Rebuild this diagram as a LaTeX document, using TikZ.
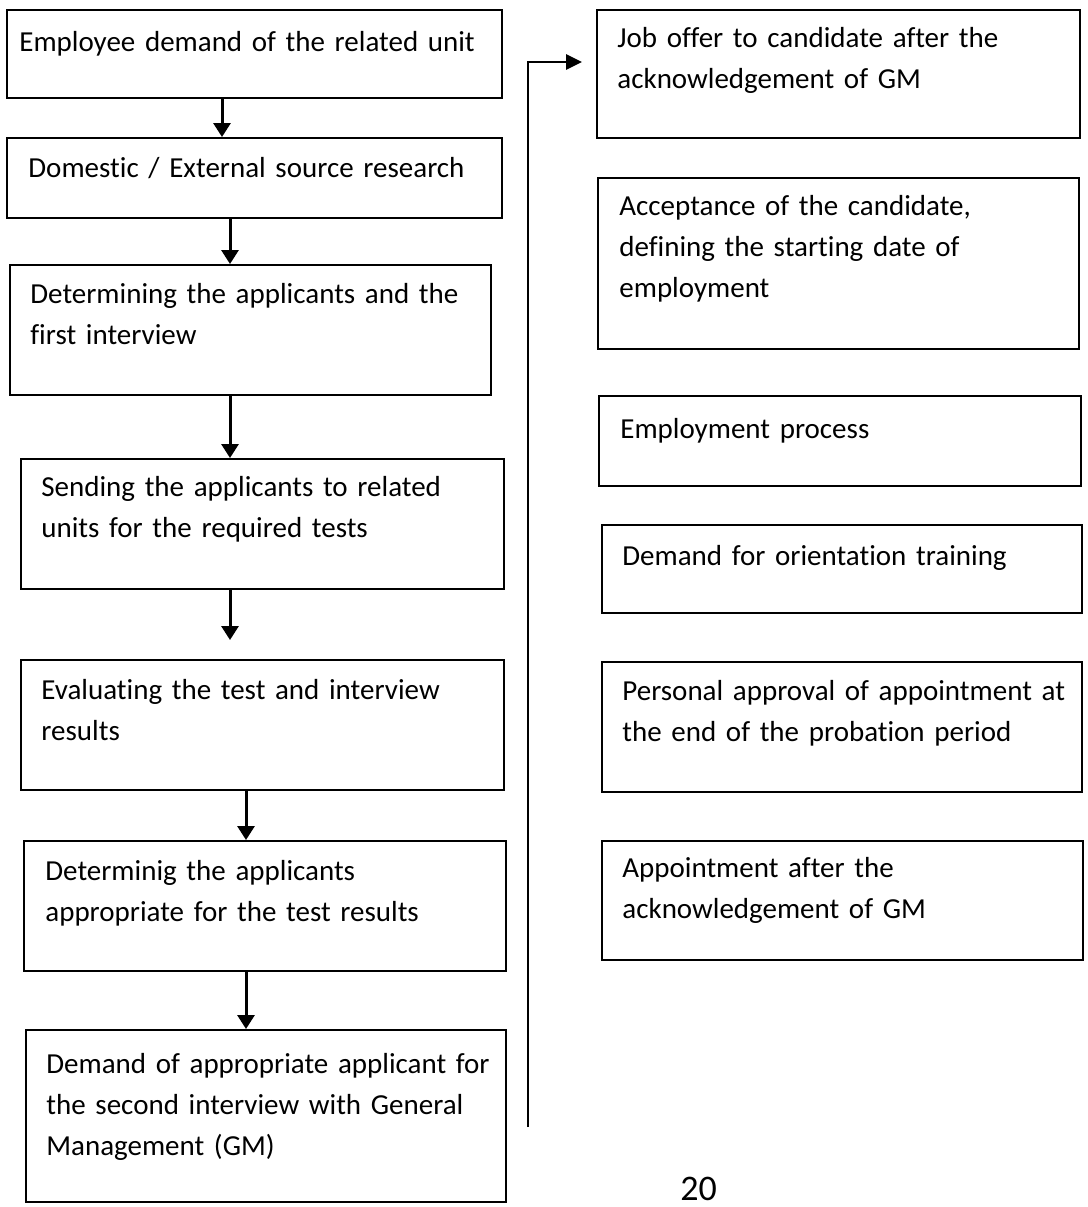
\documentclass[tikz,border=0pt]{standalone}
\usepackage{fontspec}
\setmainfont{Carlito}[Ligatures={NoCommon}]
\usetikzlibrary{arrows.meta,fit}

\tikzset{
  boxframe/.style={draw, line width=1pt, inner sep=0pt},
  boxtext/.style={anchor=base west, inner sep=0pt, text width=260pt, align=left,
    font=\fontsize{14.5}{20.5}\selectfont},
  arr/.style={line width=1.5pt, -{Triangle[length=7pt,width=8.5pt]}},
  loopline/.style={line width=1.4pt, -{Triangle[length=8pt,width=7.5pt]}}
}

\begin{document}
\begin{tikzpicture}[x=0.5pt, y=-0.5pt]
    \useasboundingbox (0,0) rectangle (1088,1207);

    % Boxes
    \foreach \n/\a/\b/\c/\d in {b1/7/10/502/98, b2/7/138/502/218, b3/10/265/491/395,
        b4/21/459/504/589, b5/21/660/504/790, b6/24/841/506/971, b7/26/1030/506/1202,
        r1/597/10/1080/138, r2/598/178/1079/349, r3/599/396/1081/486,
        r4/602/525/1082/613, r5/602/662/1082/792, r6/602/841/1083/960} {
        \node[boxframe, fit={(\a,\b) (\c,\d)}] (\n) {};
    }

    % Left column texts
    \node[boxtext] (t1) at ([shift={(13,42)}]b1.north west) {Employee demand of the related unit};
    \node[boxtext] (t2) at ([shift={(22,40)}]b2.north west) {Domestic / External source research};
    \node[boxtext] (t3) at ([shift={(21,39)}]b3.north west) {Determining the applicants and the\\first interview};
    \node[boxtext] (t4) at ([shift={(21,38)}]b4.north west) {Sending the applicants to related\\units for the required tests};
    \node[boxtext] (t5) at ([shift={(21,40)}]b5.north west) {Evaluating the test and interview\\results};
    \node[boxtext] (t6) at ([shift={(22,40)}]b6.north west) {Determinig the applicants\\appropriate for the test results};
    \node[boxtext] (t7) at ([shift={(21,44)}]b7.north west) {Demand of appropriate applicant for\\the second interview with General\\Management (GM)};

    % Right column texts
    \node[boxtext] (s1) at ([shift={(21,38)}]r1.north west) {Job offer to candidate after the\\acknowledgement of GM};
    \node[boxtext] (s2) at ([shift={(22,38)}]r2.north west) {Acceptance of the candidate,\\defining the starting date of\\employment};
    \node[boxtext] (s3) at ([shift={(22,43)}]r3.north west) {Employment process};
    \node[boxtext] (s4) at ([shift={(21,41)}]r4.north west) {Demand for orientation training};
    \node[boxtext] (s5) at ([shift={(21,39)}]r5.north west) {Personal approval of appointment at\\the end of the probation period};
    \node[boxtext] (s6) at ([shift={(21,37)}]r6.north west) {Appointment after the\\acknowledgement of GM};

    % Arrows down the left column
    \draw[arr] (222,0 |- b1.south) -- (222,0 |- b2.north);
    \draw[arr] (230,0 |- b2.south) -- (230,0 |- b3.north);
    \draw[arr] (230,0 |- b3.south) -- (230,0 |- b4.north);
    \draw[arr, shorten >=9.5pt] (230,0 |- b4.south) -- (230,0 |- b5.north);
    \draw[arr] (246,0 |- b5.south) -- (246,0 |- b6.north);
    \draw[arr] (246,0 |- b6.south) -- (246,0 |- b7.north);

    % Link over to the right column
    \coordinate (loopfoot) at (528,1127);
    \draw[loopline] (loopfoot) |- ([shift={(-14,53)}]r1.north west);

    % Page number
    \node[anchor=base west, inner sep=0pt, font=\fontsize{18}{22}\selectfont] (pgnum) at (680,1200) {20};
\end{tikzpicture}
\end{document}
